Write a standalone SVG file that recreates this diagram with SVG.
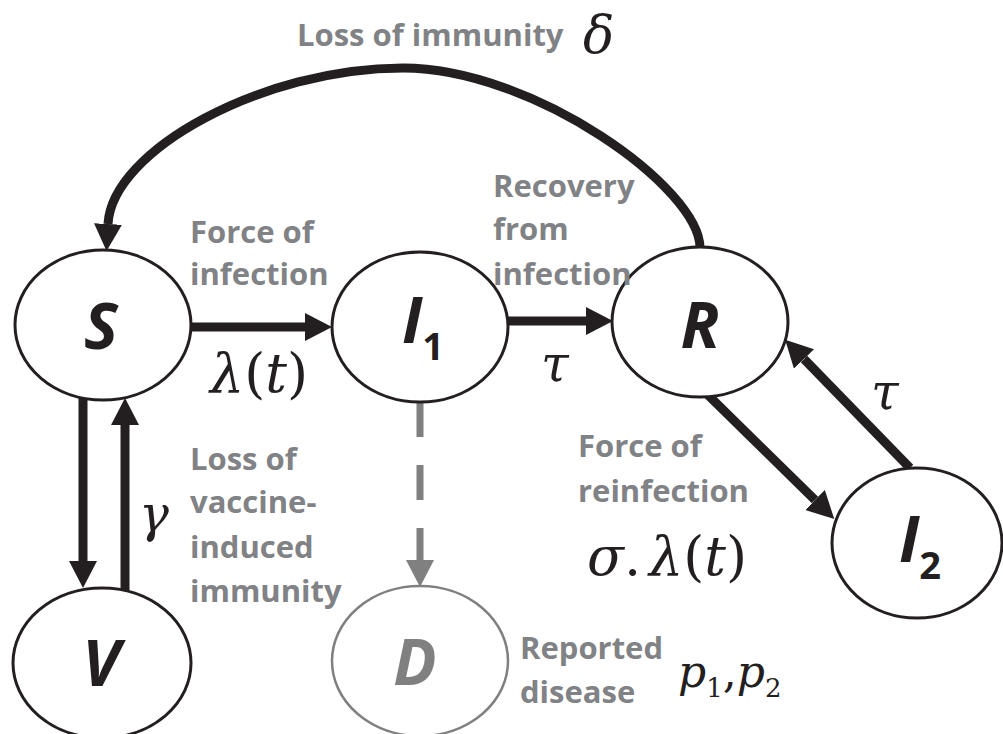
<svg xmlns="http://www.w3.org/2000/svg" width="1003" height="734" viewBox="0 0 1003 734">
<style>
.node{fill:#fff;stroke:#231f20;stroke-width:3}
.nodeg{fill:#fff;stroke:#808080;stroke-width:2.5}
.lab{font-family:"Open Sans",sans-serif;font-weight:bold;font-style:italic;font-size:64px;fill:#231f20;text-anchor:middle}
.sub{font-size:38px;font-style:normal}
.gl{font-family:"Open Sans",sans-serif;font-weight:bold;font-size:31px;fill:#808285}
.m{font-family:"DejaVu Serif",serif;font-style:italic;fill:#231f20}
.up{font-style:normal}
.c{fill:none;stroke:#231f20;stroke-width:9}
.cg{fill:none;stroke:#808080;stroke-width:7;stroke-dasharray:35 28}
</style>
<defs>
<marker id="ah" markerUnits="userSpaceOnUse" markerWidth="27" markerHeight="28" refX="0" refY="14" orient="auto" viewBox="0 0 27 28">
<path d="M0,0 L27,14 L0,28 z" fill="#231f20"/>
</marker>
<marker id="ahg" markerUnits="userSpaceOnUse" markerWidth="27" markerHeight="28" refX="0" refY="14" orient="auto" viewBox="0 0 27 28">
<path d="M0,0 L27,14 L0,28 z" fill="#808080"/>
</marker>
</defs>
<g id="connectors">
<path class="c" d="M700,248 C700,188 533,68 403,68 C263,68 112,150 108,224" marker-end="url(#ah)"/>
<path class="c" d="M192,327 L305,327" marker-end="url(#ah)"/>
<path class="c" d="M508,321 L586,321" marker-end="url(#ah)"/>
<path class="c" d="M83,397 L83,561" marker-end="url(#ah)"/>
<path class="c" d="M125,590 L125,425" marker-end="url(#ah)"/>
<path class="cg" d="M420,402 L420,560" marker-end="url(#ahg)"/>
<path class="c" d="M708,395 L815,500" marker-end="url(#ah)"/>
<path class="c" d="M910,468 L804,359" marker-end="url(#ah)"/>
</g>
<g id="node-S">
<ellipse class="node" cx="103" cy="325" rx="88" ry="75"/>
<text class="lab" x="101" y="349">S</text>
</g>
<g id="node-I1">
<ellipse class="node" cx="420" cy="327" rx="88" ry="75"/>
<text class="lab" x="423" y="343">I<tspan class="sub" dy="17">1</tspan></text>
</g>
<g id="node-R">
<ellipse class="node" cx="700" cy="322" rx="88" ry="75"/>
<text class="lab" x="700" y="348">R</text>
</g>
<g id="node-I2">
<ellipse class="node" cx="917" cy="543" rx="85" ry="75"/>
<text class="lab" x="920" y="562">I<tspan class="sub" dy="17">2</tspan></text>
</g>
<g id="node-V">
<ellipse class="node" cx="102" cy="663" rx="89" ry="75"/>
<text class="lab" x="101" y="686">V</text>
</g>
<g id="node-D">
<ellipse class="nodeg" cx="420" cy="661" rx="88" ry="75"/>
<text class="lab" x="415" y="685" style="fill:#808080">D</text>
</g>
<g id="labels">
<text class="gl" x="297" y="46">Loss of immunity</text>
<text class="m" x="583" y="53" font-size="52">δ</text>
<text class="gl" x="190" y="243">Force of</text>
<text class="gl" x="190" y="285">infection</text>
<text class="m" x="210" y="392" font-size="54">λ<tspan class="up">(</tspan>t<tspan class="up">)</tspan></text>
<text class="gl" x="493" y="197">Recovery</text>
<text class="gl" x="493" y="240">from</text>
<text class="gl" x="493" y="285">infection</text>
<text class="m" x="541" y="381" font-size="50">τ</text>
<text class="m" x="871" y="409" font-size="50">τ</text>
<text class="m" x="139" y="531" font-size="50">γ</text>
<text class="gl" x="190" y="470">Loss of</text>
<text class="gl" x="190" y="513">vaccine-</text>
<text class="gl" x="190" y="558">induced</text>
<text class="gl" x="190" y="602">immunity</text>
<text class="gl" x="578" y="457">Force of</text>
<text class="gl" x="578" y="502">reinfection</text>
<text class="m" x="587" y="575" font-size="54">σ<tspan class="up">.</tspan><tspan dx="8">λ</tspan><tspan class="up">(</tspan>t<tspan class="up">)</tspan></text>
<text class="gl" x="520" y="659">Reported</text>
<text class="gl" x="520" y="703">disease</text>
<text class="m" x="678" y="687" font-size="44">p<tspan class="up" font-size="26" dy="10">1</tspan><tspan class="up" dy="-10">,</tspan>p<tspan class="up" font-size="26" dy="10">2</tspan></text>
</g>
</svg>
